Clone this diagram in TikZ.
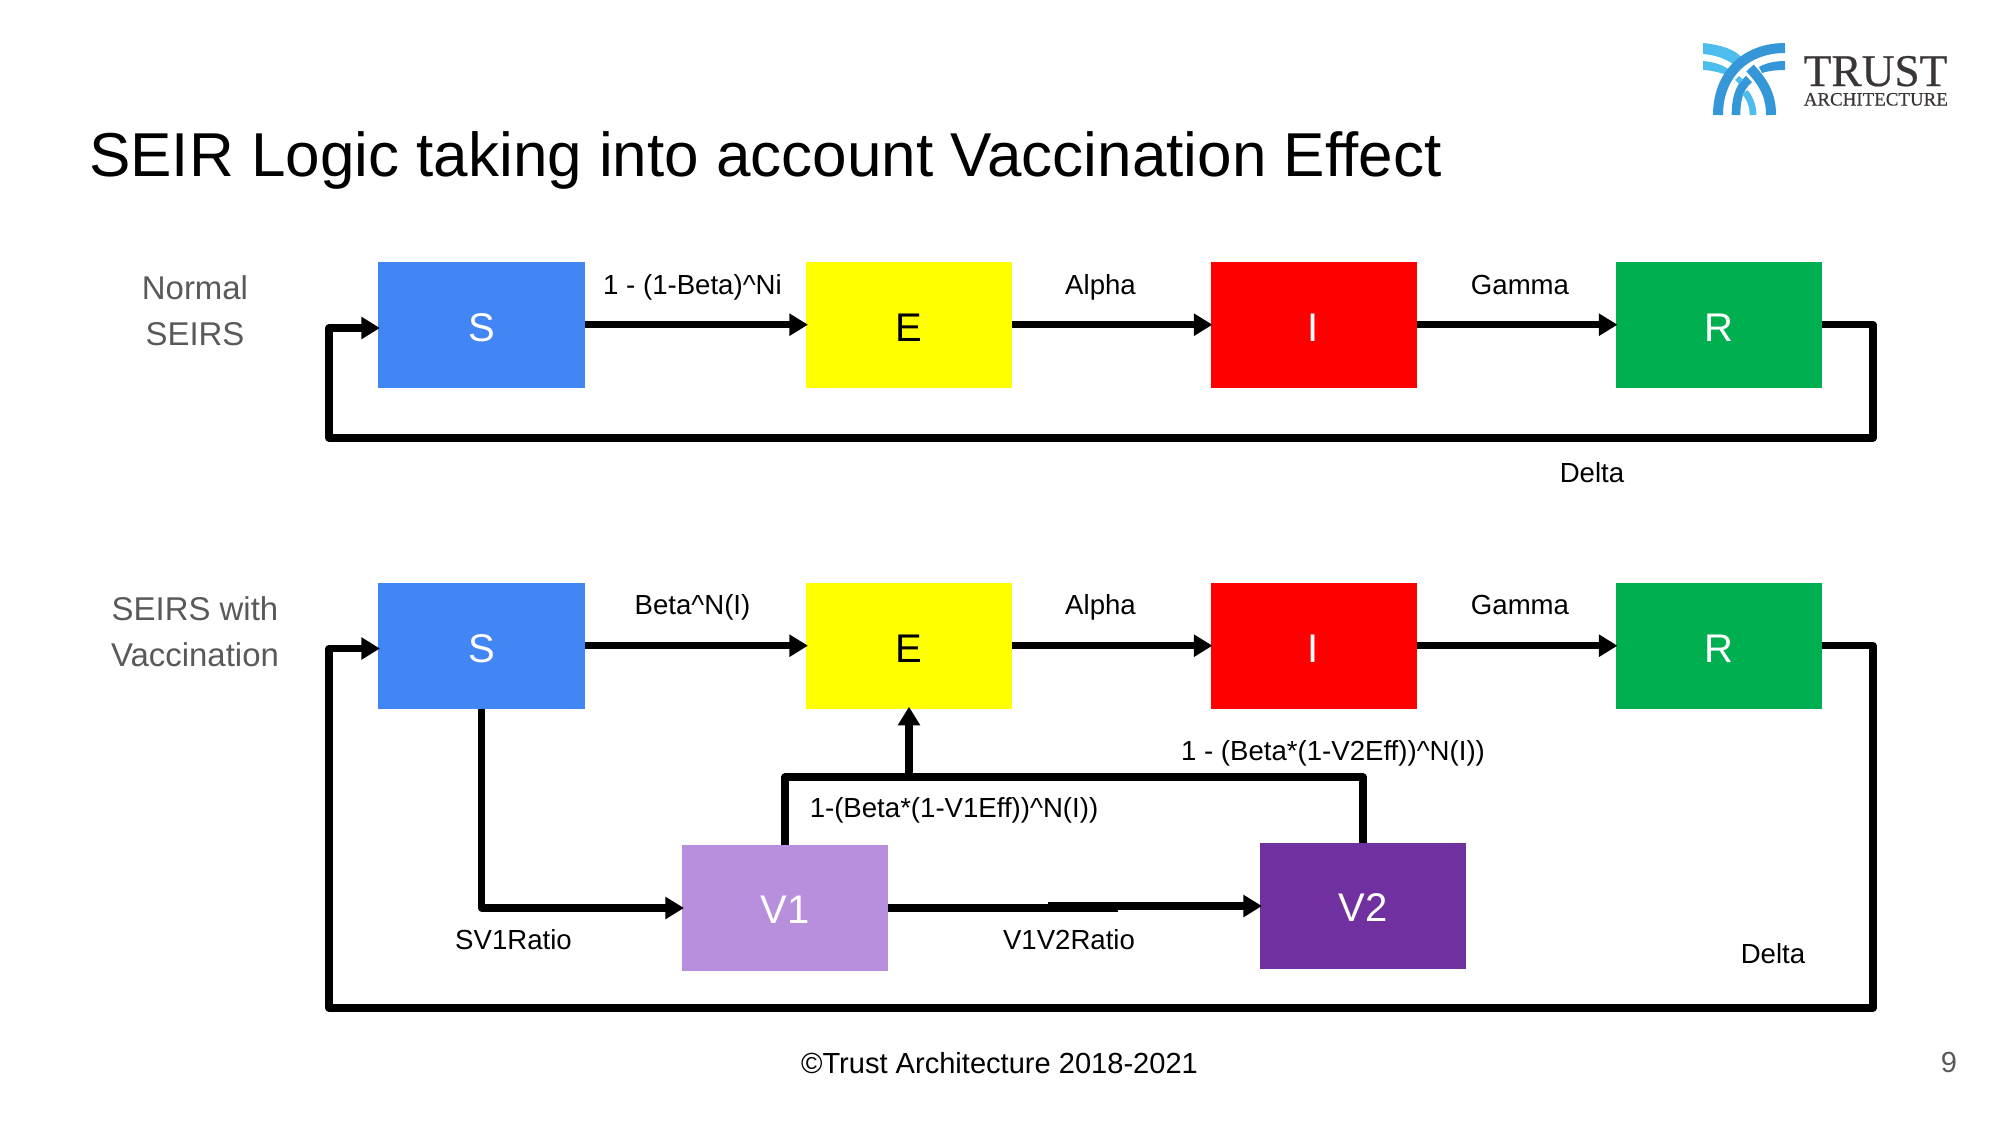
\documentclass[tikz,border=0pt]{standalone}
\usepackage{fontspec}
\setmainfont{Liberation Sans}
\newfontfamily\logoserif[FakeBold=0.5]{Liberation Serif}
\usetikzlibrary{arrows.meta}
\definecolor{cS}{HTML}{4285F4}
\definecolor{cE}{HTML}{FFFF00}
\definecolor{cI}{HTML}{FF0000}
\definecolor{cR}{HTML}{00B050}
\definecolor{cVa}{HTML}{B88FDC}
\definecolor{cVb}{HTML}{7030A0}
\definecolor{side}{HTML}{595959}
\definecolor{logoA}{HTML}{3597D8}
\definecolor{logoB}{HTML}{4DBDEE}
\definecolor{logoC}{HTML}{3A3536}
\tikzset{
  x=0.75pt,y=-0.75pt,
  boxn/.style={rectangle,minimum width=154.5pt,minimum height=94.5pt,inner sep=0pt,outer sep=0pt,text height=25.3pt,text depth=0pt,font=\fontsize{30}{36}\selectfont,text=white},
  flow/.style={line width=5.4pt,draw=black,line join=round},
  tip/.style={flow,shorten >=-1.5pt,-{Triangle[length=14pt,width=16pt]}},
  lab/.style={inner sep=0pt,anchor=base,font=\fontsize{20.7}{24}\selectfont,text=black},
  sidelab/.style={inner sep=0pt,align=center,font=\fontsize{24.7}{34.5}\selectfont,text=side},
  lg/.style={line width=7.5pt,line cap=butt},
}
\begin{document}
\begin{tikzpicture}
\useasboundingbox (0,0) rectangle (2000,1125);
\node[inner sep=0pt,anchor=base west,font=\fontsize{46.5}{56}\selectfont] (title) at (89,176.5) {SEIR Logic taking into account Vaccination Effect};
% first row
\node[boxn,fill=cS,minimum width=155.6pt] (S1) at (481.7,324.7) {S};
\node[boxn,fill=cE,text=black] (E1) at (909,324.7) {E};
\node[boxn,fill=cI] (I1) at (1313.5,324.7) {I};
\node[boxn,fill=cR] (R1) at (1718.5,324.7) {R};
\coordinate (tr1) at (1873,324.7);
\coordinate (br1) at (1873,438);
\coordinate (bl1) at (329,438);
\coordinate (tl1) at (329,328);
% second row
\node[boxn,fill=cS,minimum width=155.6pt] (S2) at (481.7,645.7) {S};
\node[boxn,fill=cE,text=black] (E2) at (909,645.7) {E};
\node[boxn,fill=cI] (I2) at (1313.5,645.7) {I};
\node[boxn,fill=cR] (R2) at (1718.5,645.7) {R};
\node[boxn,fill=cVa,text height=23pt] (V1) at (785,908) {V1};
\node[boxn,fill=cVb,text height=23.5pt] (V2) at (1363,906) {V2};
\draw[tip] (S1.east) -- (E1.west);
\draw[tip] (E1.east) -- (I1.west);
\draw[tip] (I1.east) -- (R1.west);
\draw[tip] (R1.east) -- (tr1) -- (br1) -- (bl1) -- (tl1) -- (S1.west|-tl1);
\draw[tip] (S2.east) -- (E2.west);
\draw[tip] (E2.east) -- (I2.west);
\draw[tip] (I2.east) -- (R2.west);
\coordinate (tr2) at (1873,645.7);
\coordinate (br2) at (1873,1008);
\coordinate (bl2) at (329,1008);
\coordinate (tl2) at (329,648.5);
\draw[tip] (R2.east) -- (tr2) -- (br2) -- (bl2) -- (tl2) -- (S2.west|-tl2);
\coordinate (sv) at (S2.south|-V1.west);
\draw[tip] (S2.south) -- (sv) -- (V1.west);
\coordinate (vm1) at (1118,908);
\coordinate (vm2) at (1048,906);
\draw[flow] (V1.east) -- (vm1);
\draw[tip] (vm2) -- (V2.west);
\coordinate (busy) at (0,777);
\coordinate (busl) at (V1.north|-busy);
\coordinate (busr) at (V2.north|-busy);
\coordinate (bust) at (E2.south|-busy);
\draw[flow] (V1.north) -- (busl) -- (busr) -- (V2.north);
\draw[tip] (bust) -- (E2.south);
% labels
\node[lab] (a1) at (692.5,294.5) {1 - (1-Beta)\textasciicircum Ni};
\node[lab] (a2) at (1100.5,294.5) {Alpha};
\node[lab] (a3) at (1520,294.5) {Gamma};
\node[lab] (a4) at (1592,482.5) {Delta};
\node[lab] (b1) at (692.5,614.5) {Beta\textasciicircum N(I)};
\node[lab] (b2) at (1100.5,614.5) {Alpha};
\node[lab] (b3) at (1520,614.5) {Gamma};
\node[lab] (c1) at (1333,760.5) {1 - (Beta*(1-V2Eff))\textasciicircum N(I))};
\node[lab] (c2) at (954,817.5) {1-(Beta*(1-V1Eff))\textasciicircum N(I))};
\node[lab] (c3) at (513.5,949.5) {SV1Ratio};
\node[lab] (c4) at (1069,949.5) {V1V2Ratio};
\node[lab] (c5) at (1773,963.5) {Delta};
\node[sidelab] (n1) at (195,310.5) {Normal\\SEIRS};
\node[sidelab] (n2) at (195,631.5) {SEIRS with\\Vaccination};
\node[lab,font=\fontsize{21.8}{26}\selectfont] (foot) at (999.5,1073) {©Trust Architecture 2018-2021};
\node[lab,text=side,font=\fontsize{21.8}{26}\selectfont] (pg) at (1949,1072.5) {9};
% logo
\fill[logoB] (1703,43) .. controls (1722,45) and (1736,50) .. (1742,58) -- (1736,66) .. controls (1725,58) and (1715,55) .. (1703,54) -- cycle;
\fill[logoB] (1703,61) .. controls (1714,62) and (1723,65) .. (1728,69) -- (1724,74) .. controls (1717,72) and (1710,70) .. (1703,70) -- cycle;
\fill[logoA] (1785,61) -- (1785,70) .. controls (1775,70) and (1768,71) .. (1762,73) -- (1759,67) .. controls (1766,63) and (1775,61) .. (1785,61) -- cycle;
\draw[lg,logoA] (1785,48) .. controls (1745,48) and (1718,75) .. (1718,115);
\draw[lg,logoA] (1750,68) .. controls (1766,85) and (1771,98) .. (1771,115);
\draw[lg,logoA,line width=6.5pt] (1749,79) .. controls (1738,88) and (1736,102) .. (1736,115);
\draw[lg,logoB,line width=5pt] (1745,92) .. controls (1751,100) and (1753,107) .. (1753,115);
\fill[logoB] (1739,76) -- (1743,80) -- (1739,84) -- (1735,80) -- cycle;
\node[inner sep=0pt,anchor=base west,text=logoC,font=\logoserif\fontsize{34}{34}\selectfont] (lg1) at (1803.5,86) {TRUST};
\node[inner sep=0pt,anchor=base west,text=logoC,font=\logoserif\fontsize{14.2}{14}\selectfont] (lg2) at (1803.5,105.5) {ARCHITECTURE};
\end{tikzpicture}
\end{document}
